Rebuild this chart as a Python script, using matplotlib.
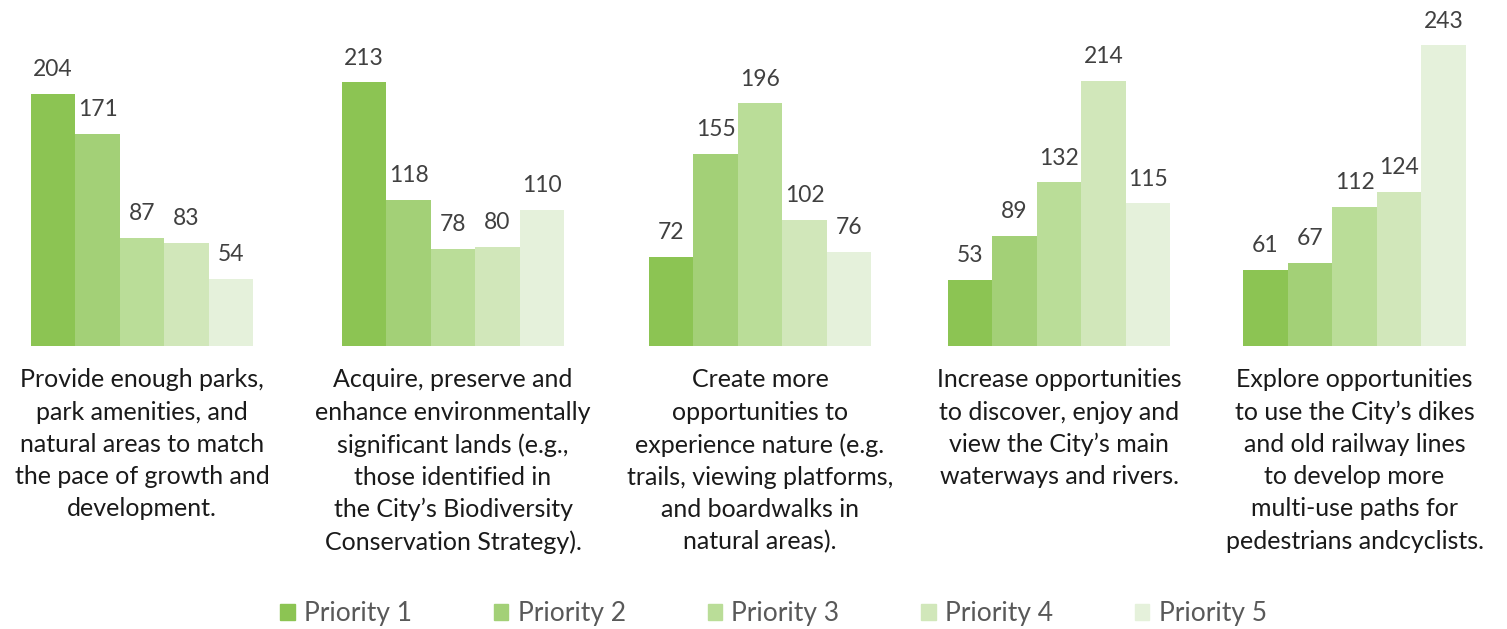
import numpy as np
import matplotlib.pyplot as plt
from matplotlib.patches import Patch

categories = [
    "Provide enough parks,\npark amenities, and\nnatural areas to match\nthe pace of growth and\ndevelopment.",
    "Acquire, preserve and\nenhance environmentally\nsignificant lands (e.g.,\nthose identified in\nthe City\u2019s Biodiversity\nConservation Strategy).",
    "Create more\nopportunities to\nexperience nature (e.g.\ntrails, viewing platforms,\nand boardwalks in\nnatural areas).",
    "Increase opportunities\nto discover, enjoy and\nview the City\u2019s main\nwaterways and rivers.",
    "Explore opportunities\nto use the City\u2019s dikes\nand old railway lines\nto develop more\nmulti-use paths for\npedestrians andcyclists.",
]
series_names = ["Priority 1", "Priority 2", "Priority 3", "Priority 4", "Priority 5"]
priority1 = [204, 213, 72, 53, 61]
priority2 = [171, 118, 155, 89, 67]
priority3 = [87, 78, 196, 132, 112]
priority4 = [83, 80, 102, 214, 124]
priority5 = [54, 110, 76, 115, 243]
values = [priority1, priority2, priority3, priority4, priority5]
colors = ["#8cc453", "#a3d077", "#badd98", "#d1e7ba", "#e5f1db"]

plt.rcParams['font.family'] = ['Lato', 'DejaVu Sans']

fig = plt.figure(figsize=(15.07, 6.29), dpi=100)
ax = fig.add_axes([0, (629 - 345.5) / 629, 1, 345.5 / 629])

# group centres in pixel units (the source spacing is a bit uneven)
centers = np.array([142, 453, 760, 1059, 1354.5])
bw = 44.5
for k, (name, vals) in enumerate(zip(series_names, values)):
    pos = centers - 2.5 * bw + bw * (k + 0.5)
    bars = ax.bar(pos, vals, width=bw, color=colors[k], label=name)
    for b, v in zip(bars, vals):
        ax.annotate(str(v), (b.get_x() + b.get_width() / 2, v),
                    xytext=(0, 10), textcoords='offset points',
                    ha='center', va='bottom', fontsize=16.5, color='#404040')

ax.set_xlim(0, 1507)
ax.set_ylim(0, 345.5 / 1.235)
ax.axis('off')

for c, cx in zip(categories, centers):
    ax.annotate(c, (cx, 0), xytext=(0, -16.5), textcoords='offset points',
                ha='center', va='top', fontsize=18, color='#1a1a1a',
                linespacing=1.48, annotation_clip=False)

handles = [Patch(color=c) for c in colors]
fig.legend(handles, series_names, loc='center',
           bbox_to_anchor=(0.5 + 20 / 1507, 1 - 614 / 629),
           ncol=5, frameon=False, fontsize=19, labelcolor='#595959',
           handlelength=0.55, handleheight=0.55, handletextpad=0.35, columnspacing=3.1)

fig.savefig('out.png', dpi=100)
